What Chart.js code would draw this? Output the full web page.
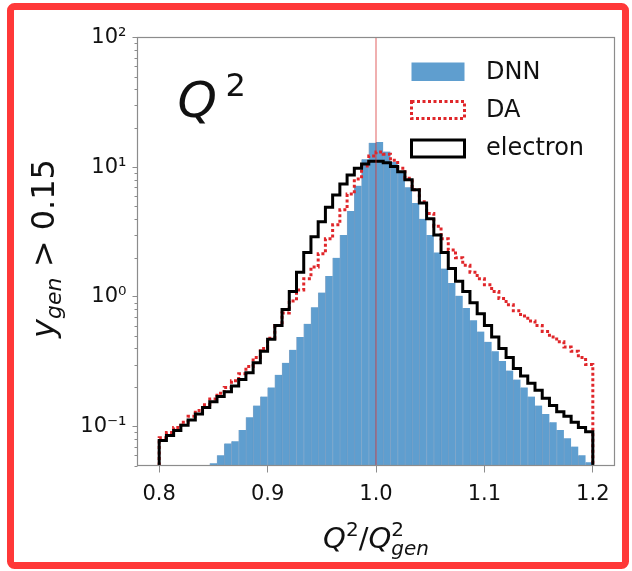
<!DOCTYPE html>
<html>
<head>
<meta charset="utf-8">
<script src="https://cdn.jsdelivr.net/npm/chart.js@4.4.1/dist/chart.umd.min.js"></script>
<style>
  html, body { margin: 0; padding: 0; background: #fff; }
  canvas { display: block; }
</style>
</head>
<body>
<canvas id="chart" width="632" height="571"></canvas>
<script>
// Q^2 / Q^2_gen histograms: 60 equal-width bins between 0.8 and 1.2
const binRange = [0.8, 1.2];
const binCount = 60;

// Normalised bin contents (null = empty bin)
const dnnCounts = [
  null, null, null, null, null, null, null, 0.052, 0.060, 0.074,
  0.077, 0.094, 0.118, 0.145, 0.17, 0.20, 0.25, 0.31, 0.39, 0.49,
  0.62, 0.83, 1.08, 1.45, 2.0, 3.0, 4.6, 7.2, 11.5, 15.4,
  15.6, 13.2, 11.0, 9.0, 7.0, 5.3, 4.0, 3.0, 2.2, 1.65,
  1.28, 1.02, 0.82, 0.66, 0.54, 0.45, 0.38, 0.32, 0.27, 0.23,
  0.20, 0.17, 0.145, 0.125, 0.108, 0.094, 0.081, 0.070, 0.060, 0.053
];
const daCounts = [
  0.082, 0.090, 0.098, 0.108, 0.120, 0.133, 0.147, 0.163, 0.180, 0.200,
  0.225, 0.255, 0.29, 0.34, 0.40, 0.48, 0.60, 0.75, 0.93, 1.13,
  1.38, 1.70, 2.15, 2.8, 3.6, 4.7, 6.2, 8.1, 10.2, 12.2,
  13.1, 12.6, 11.3, 9.8, 8.2, 6.7, 5.4, 4.4, 3.5, 2.8,
  2.3, 2.0, 1.75, 1.55, 1.38, 1.24, 1.10, 0.97, 0.87, 0.78,
  0.71, 0.65, 0.60, 0.54, 0.49, 0.45, 0.41, 0.38, 0.34, 0.30
];
const electronCounts = [
  0.078, 0.085, 0.093, 0.102, 0.112, 0.125, 0.140, 0.155, 0.170, 0.185,
  0.205, 0.23, 0.26, 0.31, 0.38, 0.47, 0.60, 0.80, 1.10, 1.55,
  2.2, 2.9, 3.8, 4.9, 6.1, 7.4, 8.7, 9.8, 10.6, 11.1,
  11.1, 10.8, 10.1, 9.2, 8.0, 6.7, 5.3, 4.0, 3.0, 2.2,
  1.65, 1.32, 1.10, 0.90, 0.74, 0.60, 0.49, 0.40, 0.34, 0.28,
  0.245, 0.215, 0.19, 0.165, 0.145, 0.13, 0.12, 0.108, 0.098, 0.091
];

const seriesNames = ['DNN', 'DA', 'electron'];
const xTickValues = [0.8, 0.9, 1.0, 1.1, 1.2];
const yDecades = [0.1, 1, 10, 100];
const yDecadeLabels = ['10\u207B\u00B9', '10\u2070', '10\u00B9', '10\u00B2'];
const referenceRatio = 1.0;

const X_MIN = 0.78, X_MAX = 1.22;
const Y_MIN = 0.05, Y_MAX = 100;

const FONT = "'DejaVu Sans', 'Liberation Sans', sans-serif";
const COLORS = {
  dnn: '#5f9ecf',
  dnnEdge: 'rgba(30, 90, 150, 0.55)',
  da: '#e0262a',
  electron: '#000000',
  spine: '#8c8c8c',
  text: '#111111',
  refLine: 'rgba(215, 45, 45, 0.5)',
  frame: '#ff3838'
};

// Bin edges and centres
const binWidth = (binRange[1] - binRange[0]) / binCount;
const edges = Array.from({ length: binCount + 1 }, (_, i) => binRange[0] + i * binWidth);
const centers = edges.slice(0, -1).map(e => e + binWidth / 2);

// Outline of a step histogram: up at the first edge, across every bin, down at the last edge
function stepOutline(counts) {
  const pts = [{ x: edges[0], y: Y_MIN }];
  counts.forEach((v, i) => pts.push({ x: edges[i], y: v }));
  pts.push({ x: edges[binCount], y: counts[binCount - 1] });
  pts.push({ x: edges[binCount], y: Y_MIN });
  return pts;
}

const isDecade = v => yDecades.some(d => Math.abs(d - v) / d < 1e-9);
const decadeLabel = v => {
  const i = yDecades.findIndex(d => Math.abs(d - v) / d < 1e-9);
  return i >= 0 ? yDecadeLabels[i] : '';
};
const yTickValues = [];
for (let e = -2; e <= 2; e++) {
  for (let k = 1; k <= 9; k++) {
    const v = +(k * Math.pow(10, e)).toPrecision(6);
    if (v >= Y_MIN - 1e-12 && v <= Y_MAX + 1e-9) yTickValues.push(v);
  }
}

// Text with mixed fonts, sub- and superscripts, centred on (cx, baseline)
function drawRich(ctx, cx, baseY, parts) {
  let cursor = 0, lastStart = 0;
  const placed = parts.map(p => {
    ctx.font = `${p.italic ? 'italic ' : ''}${p.size}px ${FONT}`;
    const w = ctx.measureText(p.t).width;
    const start = p.overlay ? lastStart : cursor;
    if (!p.overlay) lastStart = cursor;
    cursor = Math.max(cursor, start + w);
    return { p, start };
  });
  const x0 = cx - cursor / 2;
  ctx.textAlign = 'left';
  ctx.textBaseline = 'alphabetic';
  placed.forEach(({ p, start }) => {
    ctx.font = `${p.italic ? 'italic ' : ''}${p.size}px ${FONT}`;
    ctx.fillText(p.t, x0 + start, baseY + (p.dy || 0));
  });
}

const decorations = {
  id: 'decorations',
  beforeDraw(chart) {
    const { ctx, width, height } = chart;
    ctx.save();
    ctx.fillStyle = '#ffffff';
    ctx.fillRect(0, 0, width, height);
    ctx.strokeStyle = COLORS.frame;
    ctx.lineWidth = 7;
    ctx.beginPath();
    ctx.roundRect(10.5, 6.5, 615, 559, 4);
    ctx.stroke();
    ctx.restore();
  },
  afterDatasetsDraw(chart) {
    const { ctx, chartArea: a, scales: { x, y } } = chart;
    ctx.save();
    // reference line at Q^2/Q^2_gen = 1
    const xr = x.getPixelForValue(referenceRatio);
    ctx.strokeStyle = COLORS.refLine;
    ctx.lineWidth = 1.5;
    ctx.beginPath();
    ctx.moveTo(xr, a.top);
    ctx.lineTo(xr, a.bottom);
    ctx.stroke();
    // axes box
    ctx.strokeStyle = COLORS.spine;
    ctx.lineWidth = 1.2;
    ctx.strokeRect(a.left, a.top, a.right - a.left, a.bottom - a.top);
    // minor ticks of the log axis
    ctx.lineWidth = 1;
    ctx.beginPath();
    yTickValues.filter(v => !isDecade(v)).forEach(v => {
      const py = Math.round(y.getPixelForValue(v)) + 0.5;
      ctx.moveTo(a.left - 3, py);
      ctx.lineTo(a.left, py);
    });
    ctx.stroke();
    ctx.restore();
  },
  afterDraw(chart) {
    const { ctx, chartArea: a } = chart;
    ctx.save();
    ctx.fillStyle = COLORS.text;

    // legend
    const lx = a.right - 203, ly = a.top;
    ctx.fillStyle = COLORS.dnn;
    ctx.fillRect(lx, ly + 25, 53, 18.5);
    ctx.lineWidth = 3;
    ctx.setLineDash([3, 2.5]);
    ctx.strokeStyle = COLORS.da;
    ctx.strokeRect(lx, ly + 64, 53, 17);
    ctx.setLineDash([]);
    ctx.strokeStyle = COLORS.electron;
    ctx.strokeRect(lx, ly + 102.5, 53, 17);
    ctx.fillStyle = COLORS.text;
    ctx.font = `24px ${FONT}`;
    ctx.textAlign = 'left';
    ctx.textBaseline = 'middle';
    ctx.fillText(seriesNames[0], lx + 74.5, ly + 35);
    ctx.fillText(seriesNames[1], lx + 74.5, ly + 73.5);
    ctx.fillText(seriesNames[2], lx + 74.5, ly + 111.5);

    // Q^2 label inside the axes
    ctx.textBaseline = 'alphabetic';
    ctx.font = `italic 50px ${FONT}`;
    ctx.fillText('Q', a.left + 40, a.top + 79);
    ctx.font = `32px ${FONT}`;
    ctx.fillText('2', a.left + 88, a.top + 58);

    // x-axis title
    drawRich(ctx, (a.left + a.right) / 2, 548, [
      { t: 'Q', size: 29, italic: true },
      { t: '2', size: 20, dy: -12 },
      { t: '/', size: 29 },
      { t: 'Q', size: 29, italic: true },
      { t: '2', size: 20, dy: -12 },
      { t: 'gen', size: 20, italic: true, dy: 7, overlay: true }
    ]);

    // y-axis title (rotated)
    ctx.translate(54, (a.top + a.bottom) / 2 - 3);
    ctx.rotate(-Math.PI / 2);
    drawRich(ctx, 0, 0, [
      { t: 'y', size: 32, italic: true },
      { t: 'gen', size: 22, italic: true, dy: 7 },
      { t: ' > ', size: 32 },
      { t: '0.15', size: 32 }
    ]);
    ctx.restore();
  }
};

new Chart(document.getElementById('chart'), {
  type: 'bar',
  data: {
    datasets: [
      {
        type: 'line',
        label: seriesNames[2],
        data: stepOutline(electronCounts),
        borderColor: COLORS.electron,
        borderWidth: 3,
        stepped: 'before',
        pointRadius: 0,
        fill: false,
        order: 1
      },
      {
        type: 'line',
        label: seriesNames[1],
        data: stepOutline(daCounts),
        borderColor: COLORS.da,
        borderWidth: 3,
        borderDash: [3, 2.5],
        stepped: 'before',
        pointRadius: 0,
        fill: false,
        order: 2
      },
      {
        type: 'bar',
        label: seriesNames[0],
        data: centers.map((c, i) => ({ x: c, y: dnnCounts[i] })),
        backgroundColor: COLORS.dnn,
        borderColor: COLORS.dnnEdge,
        borderWidth: { left: 0.8, right: 0, top: 0, bottom: 0 },
        borderSkipped: false,
        barPercentage: 1,
        categoryPercentage: 1,
        order: 3
      }
    ]
  },
  options: {
    responsive: false,
    animation: false,
    devicePixelRatio: 1,
    events: [],
    layout: { padding: { left: 0, top: 37.5, right: 17.5, bottom: 0 } },
    plugins: { legend: { display: false }, tooltip: { enabled: false } },
    scales: {
      x: {
        type: 'linear',
        min: X_MIN,
        max: X_MAX,
        offset: false,
        border: { display: false },
        grid: { drawOnChartArea: false, offset: false, tickLength: 7, color: COLORS.spine, lineWidth: 1 },
        afterBuildTicks: s => { s.ticks = xTickValues.map(v => ({ value: v })); },
        afterFit: s => { s.height = 571 - 465.5; },
        ticks: {
          callback: v => v.toFixed(1),
          font: { family: FONT, size: 21 },
          color: COLORS.text,
          padding: 9,
          maxRotation: 0,
          autoSkip: false
        }
      },
      y: {
        type: 'logarithmic',
        min: Y_MIN,
        max: Y_MAX,
        border: { display: false },
        grid: {
          drawOnChartArea: false,
          tickLength: 5,
          color: c => (c.tick && isDecade(c.tick.value)) ? COLORS.spine : 'rgba(0,0,0,0)',
          lineWidth: 1
        },
        afterBuildTicks: s => { s.ticks = yTickValues.map(v => ({ value: v, major: isDecade(v) })); },
        afterFit: s => { s.width = 137.5; },
        ticks: {
          callback: v => decadeLabel(v),
          font: { family: FONT, size: 21 },
          color: COLORS.text,
          padding: 6,
          autoSkip: false
        }
      }
    }
  },
  plugins: [decorations]
});
</script>
</body>
</html>
